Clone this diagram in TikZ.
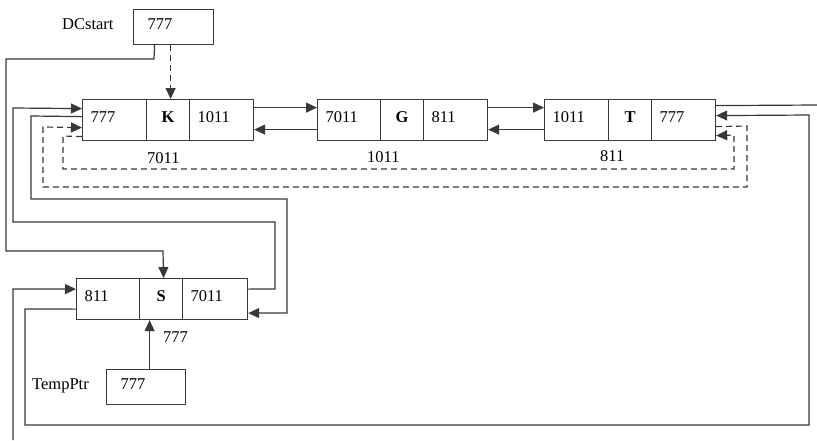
\documentclass[tikz,border=0pt]{standalone}
\usepackage{fontspec}
\setmainfont{Liberation Serif}
\usetikzlibrary{arrows.meta}
\begin{document}
\begin{tikzpicture}[x=1pt,y=1pt,
  every node/.style={font=\fontsize{16.5}{19}\selectfont},
  ln/.style={draw=black!78, line width=1.2pt},
  arr/.style={ln, -{Triangle[length=11pt,width=10pt]}},
  dsh/.style={dash pattern=on 6pt off 4pt},
  cell/.style={draw=black!78, line width=1.2pt, rectangle, anchor=north west,
    minimum height=41pt, inner xsep=8pt, inner ysep=0pt, text height=11pt, text depth=6pt, align=left},
  mid/.style={cell, align=center},
  ptr/.style={draw=black!78, line width=1.2pt, rectangle, anchor=north west,
    minimum height=35pt, inner xsep=14pt, inner ysep=0pt, text height=11pt, text depth=6pt, align=left},
  lbl/.style={anchor=base west, inner sep=0pt}
]
\useasboundingbox (0,0) rectangle (817,-440);

% K record
\node[cell, text width=48pt] (Ka) at (82,-99) {777};
\node[mid, text width=27pt] (Kb) at (146,-99) {\textbf{K}};
\node[cell, text width=48pt] (Kc) at (189,-99) {1011};
% G record
\node[cell, text width=47pt] (Ga) at (317,-99) {7011};
\node[mid, text width=27pt] (Gb) at (380,-99) {\textbf{G}};
\node[cell, text width=48pt] (Gc) at (423,-99) {811};
% T record
\node[cell, text width=48pt] (Ta) at (544,-99) {1011};
\node[mid, text width=27pt] (Tb) at (608,-99) {\textbf{T}};
\node[cell, text width=48pt] (Tc) at (651,-99) {777};
% S record
\node[cell, text width=47pt] (Sa) at (76,-278) {811};
\node[mid, text width=27pt] (Sb) at (139,-278) {\textbf{S}};
\node[cell, text width=49pt] (Sc) at (182,-278) {7011};

% pointer boxes
\node[ptr, text width=52pt] (DC) at (133,-9) {777};
\node[ptr, text width=51pt] (TP) at (106,-369) {777};
\node[lbl] (DCl) at (62,-29) {DCstart};
\node[lbl] (TPl) at (32,-389) {TempPtr};

% address labels
\node[lbl] (Kaddr) at (147,-163) {7011};
\node[lbl] (Gaddr) at (367,-162) {1011};
\node[lbl] (Taddr) at (600,-161) {811};
\node[lbl] (Saddr) at (163,-342) {777};

% next / prev between K, G, T
\draw[arr] ([yshift=12.5pt]Kc.east) -- ([yshift=12.5pt]Ga.west);
\draw[arr] ([yshift=-9.5pt]Ga.west) -- ([yshift=-9.5pt]Kc.east);
\draw[arr] ([yshift=12.5pt]Gc.east) -- ([yshift=12.5pt]Ta.west);
\draw[arr] ([yshift=-9.5pt]Ta.west) -- ([yshift=-9.5pt]Gc.east);

% DCstart pointers
\draw[arr, dsh] ([xshift=-3pt]DC.south) -- ([xshift=-3pt]DC.south |- Kb.north);
\draw[arr] ([xshift=-19pt]DC.south) -- (154,-59) -- (6,-59) -- (6,-251) -- (163,-251) -- ([xshift=2.5pt]Sb.north);

% S.next -> K
\draw[arr] ([yshift=10pt]Sc.east) -- (275,-289) -- (275,-222) -- (13,-222) -- (13,-108) -- ([yshift=11.5pt]Ka.west);
% K.prev -> S
\draw[arr] ([yshift=3.5pt]Ka.west) -- (31,-116) -- (31,-199) -- (287,-199) -- (287,-313) -- ([yshift=-14pt]Sc.east);

% old dashed links K <-> T
\draw[arr, dsh] ([yshift=-16.5pt]Ka.west) -- (63,-136) -- (63,-169) -- (734,-169) -- (734,-135) -- ([yshift=-15.5pt]Tc.east);
\draw[arr, dsh] ([yshift=-6.5pt]Tc.east) -- (747,-126) -- (747,-187) -- (43,-187) -- (43,-127) -- ([yshift=-7.5pt]Ka.west);

% T.next -> S (runs off the picture)
\coordinate (Tout) at (817,-105);
\coordinate (Sin) at (13,-440);
\draw[ln] ([yshift=14.5pt]Tc.east) -- (Tout);
\draw[arr] (Sin) -- (13,-289) -- ([yshift=10pt]Sa.west);
% S.prev -> T
\draw[arr] ([yshift=-10pt]Sa.west) -- (25,-309) -- (25,-425) -- (809,-425) -- (809,-115) -- ([yshift=4.5pt]Tc.east);

% TempPtr -> S
\draw[arr] ([xshift=3.5pt]TP.north) -- ([xshift=3.5pt]TP.north |- Sb.south);
\end{tikzpicture}
\end{document}
